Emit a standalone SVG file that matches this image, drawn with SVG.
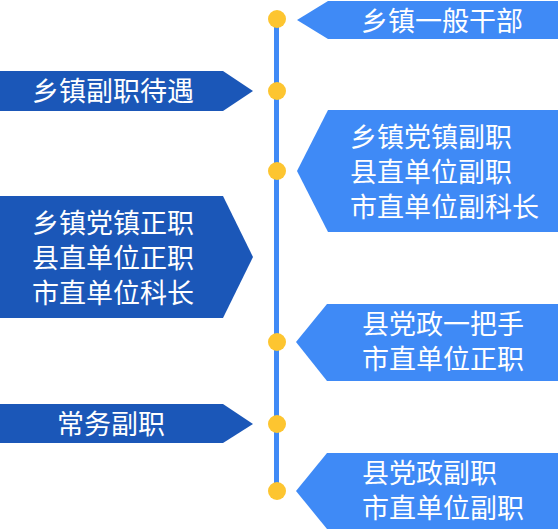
<svg xmlns="http://www.w3.org/2000/svg" width="558" height="530" viewBox="0 0 558 530">
<style>
.r{fill:#3f8af6}
.l{fill:#1b57b8}
.t{fill:#fff;font-family:"Noto Sans CJK SC","Noto Sans",sans-serif;font-size:27px}
.m{text-anchor:middle}
.d{fill:#fdc530}
</style>
<rect width="558" height="530" fill="#fff"/>
<g id="connectors">
<line x1="276.5" y1="19" x2="276.5" y2="491" stroke="#3f8af6" stroke-width="5"/>
<circle class="d" cx="277" cy="19" r="9"/>
<circle class="d" cx="277" cy="91" r="9"/>
<circle class="d" cx="277" cy="171" r="9"/>
<circle class="d" cx="277" cy="342" r="9"/>
<circle class="d" cx="277" cy="424" r="9"/>
<circle class="d" cx="277" cy="491" r="9"/>
</g>
<g id="n1">
<polygon class="r" points="297,20 328,1 558,1 558,39 328,39"/>
<text class="t m" x="442" y="31">乡镇一般干部</text>
</g>
<g id="n2">
<polygon class="l" points="0,71 223,71 253,91 223,111 0,111"/>
<text class="t m" x="113" y="101">乡镇副职待遇</text>
</g>
<g id="n3">
<polygon class="r" points="297,171 328,110 558,110 558,232 328,232"/>
<text class="t" x="350" y="147">乡镇党镇副职</text>
<text class="t" x="350" y="182">县直单位副职</text>
<text class="t" x="350" y="217">市直单位副科长</text>
</g>
<g id="n4">
<polygon class="l" points="0,196 223,196 253,257 223,318 0,318"/>
<text class="t" x="32" y="233">乡镇党镇正职</text>
<text class="t" x="32" y="268">县直单位正职</text>
<text class="t" x="32" y="303">市直单位科长</text>
</g>
<g id="n5">
<polygon class="r" points="296,342 327,304 558,304 558,381 327,381"/>
<text class="t" x="362" y="334">县党政一把手</text>
<text class="t" x="362" y="369">市直单位正职</text>
</g>
<g id="n6">
<polygon class="l" points="0,404 223,404 253,424 223,443 0,443"/>
<text class="t m" x="111" y="434">常务副职</text>
</g>
<g id="n7">
<polygon class="r" points="296,491 327,453 558,453 558,529 327,529"/>
<text class="t" x="362" y="483">县党政副职</text>
<text class="t" x="362" y="518">市直单位副职</text>
</g>
</svg>
